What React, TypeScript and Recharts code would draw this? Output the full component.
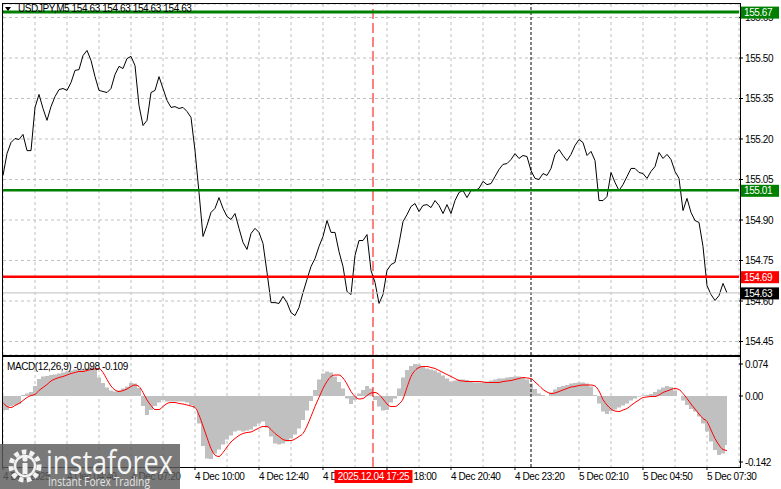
import React from 'react';
import { Area, CartesianGrid, ComposedChart, Line, ReferenceLine, XAxis, YAxis } from 'recharts';

const FONT = "'Liberation Sans', Arial, sans-serif";
const SPACING = -0.4;

// USDJPY M5 close, one value every 2 bars
const closes = [
    155.065, 155.146, 155.187, 155.202, 155.198, 155.217, 155.157, 155.157, 155.317, 155.365,
    155.313, 155.269, 155.320, 155.357, 155.383, 155.387, 155.380, 155.409, 155.454, 155.457,
    155.509, 155.528, 155.491, 155.431, 155.380, 155.376, 155.372, 155.387, 155.439, 155.469,
    155.461, 155.498, 155.506, 155.472, 155.324, 155.250, 155.269, 155.372, 155.380, 155.431,
    155.387, 155.343, 155.317, 155.320, 155.313, 155.317, 155.302, 155.280, 155.157, 155.002,
    154.839, 154.880, 154.928, 154.943, 154.983, 154.943, 154.913, 154.902, 154.924, 154.869,
    154.817, 154.791, 154.850, 154.869, 154.854, 154.813, 154.706, 154.594, 154.594, 154.591,
    154.617, 154.594, 154.557, 154.546, 154.576, 154.631, 154.680, 154.728, 154.757, 154.802,
    154.839, 154.898, 154.854, 154.854, 154.783, 154.728, 154.635, 154.624, 154.769, 154.824,
    154.824, 154.846, 154.713, 154.669, 154.591, 154.624, 154.713, 154.735, 154.743, 154.813,
    154.894, 154.920, 154.950, 154.961, 154.931, 154.954, 154.957, 154.946, 154.972, 154.954,
    154.924, 154.957, 154.924, 154.972, 155.002, 155.009, 154.983, 155.009, 155.009, 155.017,
    155.043, 155.031, 155.035, 155.061, 155.087, 155.106, 155.109, 155.124, 155.146, 155.128,
    155.139, 155.135, 155.083, 155.054, 155.050, 155.072, 155.065, 155.091, 155.143, 155.161,
    155.139, 155.120, 155.143, 155.176, 155.198, 155.187, 155.139, 155.154, 155.120, 154.972,
    154.972, 154.987, 155.076, 155.039, 155.009, 155.031, 155.061, 155.091, 155.091, 155.076,
    155.072, 155.054, 155.080, 155.098, 155.150, 155.128, 155.143, 155.124, 155.080, 155.054,
    154.935, 154.980, 154.928, 154.898, 154.891, 154.802, 154.657, 154.624, 154.602, 154.620,
    154.665, 154.630,
];

// MACD(12,26,9) main (histogram) and signal, same sampling
const macdMain = [
    -0.029, -0.028, -0.020, -0.018, -0.016, 0.002, 0.005, 0.008, 0.020, 0.034,
    0.039, 0.040, 0.042, 0.043, 0.045, 0.047, 0.049, 0.051, 0.053, 0.053,
    0.054, 0.055, 0.058, 0.052, 0.037, 0.026, 0.017, 0.011, 0.009, 0.011,
    0.015, 0.019, 0.026, 0.025, 0.016, -0.020, -0.038, -0.028, -0.020, -0.013,
    -0.008, -0.011, -0.011, -0.011, -0.011, -0.011, -0.013, -0.018, -0.025, -0.055,
    -0.100, -0.125, -0.126, -0.115, -0.107, -0.097, -0.087, -0.079, -0.071, -0.069,
    -0.071, -0.069, -0.067, -0.061, -0.055, -0.051, -0.063, -0.081, -0.095, -0.097,
    -0.095, -0.091, -0.085, -0.077, -0.065, -0.048, -0.029, -0.010, 0.012, 0.033,
    0.045, 0.049, 0.047, 0.039, 0.028, 0.015, -0.005, -0.016, -0.008, 0.005,
    0.012, 0.020, 0.015, -0.008, -0.021, -0.029, -0.028, -0.013, -0.005, 0.015,
    0.037, 0.052, 0.060, 0.064, 0.063, 0.059, 0.055, 0.053, 0.051, 0.047,
    0.041, 0.035, 0.029, 0.031, 0.033, 0.033, 0.032, 0.030, 0.027, 0.027,
    0.027, 0.029, 0.031, 0.033, 0.035, 0.035, 0.037, 0.038, 0.039, 0.039,
    0.038, 0.033, 0.025, 0.014, 0.005, 0.002, 0.000, 0.007, 0.013, 0.018,
    0.020, 0.022, 0.025, 0.026, 0.027, 0.027, 0.025, 0.019, 0.002, -0.015,
    -0.031, -0.036, -0.030, -0.027, -0.023, -0.019, -0.015, -0.009, -0.005, -0.001,
    0.001, 0.002, 0.004, 0.008, 0.013, 0.017, 0.020, 0.018, 0.011, 0.000,
    -0.009, -0.018, -0.026, -0.031, -0.041, -0.055, -0.071, -0.091, -0.108, -0.118,
    -0.115, -0.098,
];

const macdSignal = [
    -0.013, -0.021, -0.023, -0.019, -0.015, -0.009, -0.003, 0.001, 0.003, 0.011,
    0.017, 0.023, 0.030, 0.034, 0.037, 0.039, 0.042, 0.045, 0.047, 0.049,
    0.049, 0.051, 0.053, 0.054, 0.055, 0.047, 0.033, 0.020, 0.012, 0.009,
    0.011, 0.014, 0.019, 0.022, 0.019, 0.007, -0.008, -0.019, -0.027, -0.027,
    -0.021, -0.015, -0.013, -0.013, -0.015, -0.016, -0.018, -0.020, -0.023, -0.038,
    -0.060, -0.083, -0.105, -0.118, -0.121, -0.113, -0.102, -0.092, -0.085, -0.079,
    -0.075, -0.073, -0.072, -0.068, -0.064, -0.061, -0.061, -0.067, -0.075, -0.081,
    -0.087, -0.089, -0.089, -0.086, -0.081, -0.075, -0.060, -0.041, -0.021, -0.003,
    0.015, 0.029, 0.039, 0.042, 0.042, 0.036, 0.024, 0.009, -0.001, -0.006,
    -0.005, 0.001, 0.006, 0.007, 0.003, -0.006, -0.016, -0.021, -0.021, -0.016,
    -0.006, 0.017, 0.039, 0.051, 0.057, 0.059, 0.059, 0.057, 0.055, 0.051,
    0.047, 0.043, 0.039, 0.035, 0.031, 0.030, 0.029, 0.029, 0.029, 0.029,
    0.028, 0.027, 0.027, 0.027, 0.027, 0.029, 0.030, 0.031, 0.033, 0.035,
    0.037, 0.036, 0.035, 0.028, 0.021, 0.013, 0.008, 0.005, 0.006, 0.009,
    0.012, 0.015, 0.018, 0.019, 0.021, 0.022, 0.022, 0.022, 0.020, 0.010,
    -0.007, -0.018, -0.026, -0.030, -0.031, -0.028, -0.025, -0.019, -0.013, -0.008,
    -0.003, -0.002, -0.001, -0.001, 0.002, 0.007, 0.010, 0.013, 0.015, 0.013,
    0.005, -0.005, -0.016, -0.026, -0.036, -0.045, -0.051, -0.068, -0.085, -0.098,
    -0.107, -0.109,
];

const timeLabels = [
    '4 Dec 2025', '4 Dec 04:40', '4 Dec 07:20', '4 Dec 10:00', '4 Dec 12:40', '4 Dec 15:20',
    '4 Dec 18:00', '4 Dec 20:40', '4 Dec 23:20', '5 Dec 02:10', '5 Dec 04:50', '5 Dec 07:30',
];
const priceTicks = [154.45, 154.6, 154.75, 154.9, 155.05, 155.2, 155.35, 155.5, 155.65];
const macdTicks = [0.074, 0, -0.142];
const gridBars = [16, 32, 48, 64, 80, 96, 112, 128, 144, 160, 176, 192, 208, 224, 240, 256, 288, 304, 320, 336, 352];

const resistance = 155.67;
const pivot = 155.01;
const support = 154.69;
const lastPrice = 154.63;
const cursorBar = 185;
const cursorTime = '2025.12.04 17:25';
const separatorBar = 264;

const BAR_STEP = 2;
const BARS_PER_LABEL = 32;
const BAR_DOMAIN = [0, 368];
const PRICE_DOMAIN = [154.4, 155.7];
const MACD_DOMAIN = [-0.142, 0.078];
const rows = closes.map((close, i) => ({ bar: i * BAR_STEP, close, hist: macdMain[i], signal: macdSignal[i] }));
const labelBars = timeLabels.map((_, i) => i * BARS_PER_LABEL);

const textProps = { fontSize: 10, fontFamily: FONT, letterSpacing: SPACING };

const priceTag = (fill: string, value: number) => (props: any) => {
    const { viewBox } = props;
    const x = viewBox.x + viewBox.width + 1;
    const y = viewBox.y;
    return (
        <g>
            <rect x={x} y={y - 5.5} width={39} height={12} fill={fill} />
            <text x={x + 4} y={y + 0.5} dy='0.36em' fill='#fff' {...textProps}>
                {value.toFixed(2)}
            </text>
        </g>
    );
};

const cursorTag = (props: any) => {
    const { viewBox } = props;
    const cx = viewBox.x;
    const top = viewBox.y + viewBox.height + 3;
    return (
        <g>
            <rect x={cx - 38.5} y={top} width={78} height={13} fill='#ff0000' />
            <text x={cx + 0.5} y={top + 6.5} dy='0.36em' textAnchor='middle' fill='#fff' {...textProps}>
                {cursorTime}
            </text>
        </g>
    );
};

const TimeTick = (props: any) => {
    const { x, y, payload } = props;
    const label = timeLabels[Math.round(payload.value / BARS_PER_LABEL)];
    return (
        <text x={x} y={y} dy='0.71em' textAnchor='start' fill='#000' {...textProps}>
            {label}
        </text>
    );
};

const MacdTick = (props: any) => {
    const { x, y, payload } = props;
    const v = payload.value;
    const dy = v > 0 ? 5 : v < 0 ? -5 : 0;
    const label = v === 0 ? '0.00' : v.toFixed(3);
    return (
        <g>
            <line x1={x - 6} x2={x - 2} y1={y + dy} y2={y + dy} stroke='#000' />
            <text x={x} y={y + dy} dy='0.36em' fill='#000' {...textProps}>
                {label}
            </text>
        </g>
    );
};

const frame = (top: number, height: number): React.CSSProperties => ({
    position: 'absolute',
    left: 2,
    top,
    width: 737,
    height,
    border: '1px solid #000',
    pointerEvents: 'none',
});

const layer = (top: number): React.CSSProperties => ({ position: 'absolute', left: 0, top });

const MAIN_MARGIN = { top: 4, right: 0, bottom: 2, left: 3 };
const MACD_MARGIN = { top: 2, right: 0, bottom: 0, left: 3 };

export default function App() {
    return (
        <div style={{ position: 'absolute', left: 0, top: 0, width: 781, height: 489, background: '#fff', overflow: 'hidden' }}>
            {/* price panel */}
            <div style={layer(0)}>
                <ComposedChart width={781} height={357} data={rows} margin={MAIN_MARGIN}>
                    <CartesianGrid stroke='#c0c0c0' strokeDasharray='3 3' />
                    <XAxis dataKey='bar' type='number' domain={BAR_DOMAIN} ticks={gridBars} interval={0} hide height={0} />
                    <YAxis
                        orientation='right'
                        width={42}
                        domain={PRICE_DOMAIN}
                        ticks={priceTicks}
                        interval={0}
                        allowDataOverflow
                        axisLine={false}
                        tickLine={{ stroke: '#000' }}
                        tickSize={4}
                        tickMargin={2}
                        tick={{ fill: '#000', ...textProps }}
                        tickFormatter={(v) => v.toFixed(2)}
                    />
                    <ReferenceLine x={cursorBar} stroke='#ff0000' strokeDasharray='10 4' />
                    <ReferenceLine x={separatorBar} stroke='#000' strokeDasharray='3 2' />
                    <Line dataKey='close' type='linear' stroke='#000' strokeWidth={1} dot={false} isAnimationActive={false} />
                </ComposedChart>
            </div>
            {/* horizontal levels and price tags, drawn above the axis labels */}
            <div style={layer(0)}>
                <ComposedChart width={781} height={357} data={rows} margin={MAIN_MARGIN}>
                    <XAxis dataKey='bar' type='number' domain={BAR_DOMAIN} hide height={0} />
                    <YAxis orientation='right' width={42} domain={PRICE_DOMAIN} allowDataOverflow tick={false} axisLine={false} tickLine={false} />
                    <ReferenceLine y={lastPrice} stroke='#c0c0c0' label={priceTag('#000', lastPrice)} />
                    <ReferenceLine y={resistance} stroke='#008000' strokeWidth={3} label={priceTag('#008000', resistance)} />
                    <ReferenceLine y={pivot} stroke='#008000' strokeWidth={2.5} label={priceTag('#008000', pivot)} />
                    <ReferenceLine y={support} stroke='#ff0000' strokeWidth={2.5} label={priceTag('#ff0000', support)} />
                </ComposedChart>
            </div>
            {/* MACD panel */}
            <div style={layer(355)}>
                <ComposedChart width={781} height={134} data={rows} margin={MACD_MARGIN}>
                    <CartesianGrid horizontal={false} stroke='#c0c0c0' strokeDasharray='3 3' />
                    <XAxis xAxisId={0} dataKey='bar' type='number' domain={BAR_DOMAIN} ticks={gridBars} interval={0} hide height={0} />
                    <XAxis
                        xAxisId='time'
                        dataKey='bar'
                        type='number'
                        domain={BAR_DOMAIN}
                        ticks={labelBars}
                        interval={0}
                        height={22}
                        axisLine={false}
                        tickLine={{ stroke: '#000' }}
                        tickSize={3}
                        tickMargin={3}
                        tick={<TimeTick />}
                    />
                    <YAxis
                        orientation='right'
                        width={42}
                        domain={MACD_DOMAIN}
                        ticks={macdTicks}
                        interval={0}
                        allowDataOverflow
                        axisLine={false}
                        tickLine={false}
                        tickSize={4}
                        tickMargin={2}
                        tick={<MacdTick />}
                    />
                    <Area
                        dataKey='hist'
                        type='step'
                        baseValue={0}
                        fill='#c0c0c0'
                        fillOpacity={1}
                        stroke='none'
                        isAnimationActive={false}
                    />
                    <Line dataKey='signal' type='monotone' stroke='#ff0000' strokeWidth={1} dot={false} isAnimationActive={false} />
                    <ReferenceLine x={separatorBar} stroke='#000' strokeDasharray='3 2' />
                </ComposedChart>
            </div>
            {/* cursor line and its time tag, above the time labels */}
            <div style={layer(355)}>
                <ComposedChart width={781} height={134} data={rows} margin={MACD_MARGIN}>
                    <XAxis dataKey='bar' type='number' domain={BAR_DOMAIN} height={22} tick={false} axisLine={false} tickLine={false} />
                    <YAxis orientation='right' width={42} domain={MACD_DOMAIN} allowDataOverflow tick={false} axisLine={false} tickLine={false} />
                    <ReferenceLine x={cursorBar} stroke='#ff0000' strokeDasharray='10 4' label={cursorTag} />
                </ComposedChart>
            </div>
            <div style={frame(3, 351)} />
            <div style={frame(356, 110)} />
            <svg width={781} height={489} style={{ position: 'absolute', left: 0, top: 0, pointerEvents: 'none' }}>
                <polygon points='5,7 11,7 8,11' fill='#000' />
                <text x={18} y={12} fill='#000' {...textProps}>
                    USDJPY,M5  154.63 154.63 154.63 154.63
                </text>
                <text x={7} y={370} fill='#000' {...textProps}>
                    MACD(12,26,9) -0.098 -0.109
                </text>
                <rect x={0} y={444} width={180} height={45} fill='rgba(92,92,92,0.82)' />
                <g fill='none' stroke='#f2f2f2'>
                    <circle cx={25} cy={466} r={14} strokeWidth={5} strokeDasharray='4.5 3.3' />
                    <circle cx={25} cy={466} r={10} strokeWidth={2.5} />
                </g>
                <circle cx={25} cy={459} r={2.6} fill='#f2f2f2' />
                <rect x={22.5} y={463} width={5} height={11} fill='#f2f2f2' />
                <text x={46} y={474} fill='#f4f4f4' fontSize={33} fontFamily="'Open Sans', sans-serif" textLength={127} lengthAdjust='spacingAndGlyphs'>
                    instaforex
                </text>
                <text x={48} y={486} fill='#e6e6e6' fontSize={12} fontFamily="'Open Sans', sans-serif" textLength={102} lengthAdjust='spacingAndGlyphs'>
                    Instant Forex Trading
                </text>
            </svg>
        </div>
    );
}
